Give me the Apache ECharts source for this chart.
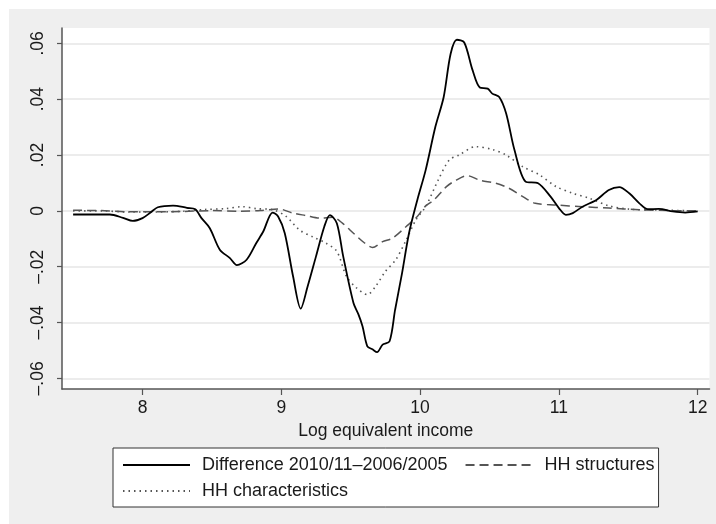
<!DOCTYPE html>
<html>
<head>
<meta charset="utf-8">
<script src="https://cdn.jsdelivr.net/npm/echarts@6/dist/echarts.min.js"></script>
<style>
  html, body { margin: 0; padding: 0; background: #fff; }
  #chart { width: 716px; height: 524px; }
</style>
</head>
<body>
<div id="chart"></div>
<script>
// Density differences by log equivalent income
const seriesNames = ['Difference 2010/11\u20132006/2005', 'HH structures', 'HH characteristics'];

const diffPoints = [
  [7.50, -0.0013], [7.62, -0.0013], [7.765, -0.0013], [7.86, -0.0025], [7.93, -0.0036],
  [8.00, -0.0026], [8.06, -0.0005], [8.11, 0.0013], [8.22, 0.0019], [8.32, 0.0011],
  [8.38, 0.0006], [8.425, -0.0026], [8.485, -0.0062], [8.557, -0.0139], [8.63, -0.0169],
  [8.68, -0.0194], [8.75, -0.0175], [8.82, -0.0115], [8.87, -0.0074], [8.937, -0.0006],
  [8.977, -0.002], [9.025, -0.008], [9.085, -0.0235], [9.14, -0.035], [9.19, -0.027],
  [9.25, -0.0163], [9.31, -0.0056], [9.35, -0.0015], [9.40, -0.0044], [9.446, -0.0163],
  [9.52, -0.033], [9.555, -0.037], [9.585, -0.0413], [9.62, -0.0485], [9.657, -0.0496],
  [9.69, -0.0506], [9.73, -0.0479], [9.78, -0.0467], [9.82, -0.0354], [9.87, -0.0223],
  [9.92, -0.008], [9.98, 0.0039], [10.04, 0.0146], [10.11, 0.0301], [10.17, 0.0408],
  [10.22, 0.0563], [10.265, 0.0613], [10.318, 0.0603], [10.378, 0.0504], [10.43, 0.0442],
  [10.487, 0.0438], [10.52, 0.042], [10.57, 0.0408], [10.62, 0.0349], [10.68, 0.0218],
  [10.76, 0.0105], [10.85, 0.0099], [10.94, 0.0051], [11.00, 0.001], [11.05, -0.0014],
  [11.10, -0.0008], [11.17, 0.0015], [11.27, 0.0039], [11.36, 0.0075], [11.435, 0.0085],
  [11.507, 0.0063], [11.58, 0.0027], [11.64, 0.0006], [11.72, 0.0007], [11.82, -0.0002],
  [11.91, -0.0006], [12.00, -0.0002]
];

const structPoints = [
  [7.50, 0.0002], [7.70, 0.0001], [7.90, -0.0003], [8.10, -0.0003], [8.30, -0.0002],
  [8.50, 0.0001], [8.70, -0.0001], [8.85, 0.0001], [8.98, 0.0007], [9.085, -0.0008],
  [9.18, -0.0017], [9.275, -0.0026], [9.37, -0.0023], [9.44, -0.0044], [9.52, -0.008],
  [9.60, -0.0115], [9.657, -0.0131], [9.73, -0.011], [9.80, -0.0098], [9.90, -0.0056],
  [9.98, -0.002], [10.04, 0.0018], [10.10, 0.0039], [10.19, 0.0087], [10.26, 0.011],
  [10.34, 0.0126], [10.43, 0.011], [10.545, 0.0099], [10.64, 0.0081], [10.74, 0.0051],
  [10.83, 0.0027], [10.98, 0.0021], [11.17, 0.0015], [11.36, 0.001], [11.58, 0.0004],
  [11.80, 0.0001], [12.00, 0.0]
];

const charPoints = [
  [7.50, 0.0], [7.70, 0.0], [7.90, -0.0004], [8.10, -0.0004], [8.30, -0.0001],
  [8.45, 0.0005], [8.60, 0.0008], [8.72, 0.0015], [8.82, 0.0008], [8.94, 0.0004],
  [9.035, -0.002], [9.13, -0.0068], [9.23, -0.0094], [9.32, -0.0115], [9.40, -0.0145],
  [9.47, -0.0235], [9.54, -0.0275], [9.62, -0.030], [9.68, -0.027], [9.75, -0.0217],
  [9.825, -0.0175], [9.90, -0.0104], [9.97, -0.0032], [10.04, 0.0015], [10.13, 0.011],
  [10.21, 0.0182], [10.28, 0.020], [10.40, 0.023], [10.52, 0.022], [10.62, 0.020],
  [10.74, 0.0158], [10.86, 0.0129], [10.98, 0.0087], [11.10, 0.0063], [11.22, 0.0045],
  [11.36, 0.0018], [11.51, 0.0006], [11.70, 0.0003], [12.00, 0.0]
];

const xTicks = [8, 9, 10, 11, 12];
const yTicks = [-0.06, -0.04, -0.02, 0, 0.02, 0.04, 0.06];
const yTickLabels = ['\u2013.06', '\u2013.04', '\u2013.02', '0', '.02', '.04', '.06'];
const xTitle = 'Log equivalent income';

const FONT = '"Liberation Sans", Arial, sans-serif';
const TEXT = '#1a1a1a';

const chart = echarts.init(document.getElementById('chart'), null, { renderer: 'canvas' });

chart.setOption({
  backgroundColor: '#ffffff',
  animation: false,
  textStyle: { fontFamily: FONT },
  graphic: [{
    type: 'rect', z: -10, silent: true,
    shape: { x: 9, y: 9, width: 707, height: 515 },
    style: { fill: '#efefef' }
  }],
  grid: {
    left: 62, top: 28, width: 647.5, height: 361,
    show: true, backgroundColor: '#ffffff', borderWidth: 0
  },
  xAxis: {
    type: 'value', min: 7.42, max: 12.085,
    name: xTitle, nameLocation: 'middle', nameGap: 30,
    nameTextStyle: { fontSize: 17.5, color: TEXT, fontFamily: FONT },
    axisLine: { show: true, onZero: false, lineStyle: { color: '#555', width: 1.5 } },
    axisTick: { show: true, length: 6, customValues: xTicks, lineStyle: { color: '#555', width: 1.2 } },
    axisLabel: { customValues: xTicks, margin: 10, fontSize: 17.5, color: TEXT, fontFamily: FONT },
    splitLine: { show: false }
  },
  yAxis: {
    type: 'value', min: -0.0638, max: 0.0655,
    axisLine: { show: true, onZero: false, lineStyle: { color: '#555', width: 1.5 } },
    axisTick: { show: true, length: 5, customValues: yTicks, lineStyle: { color: '#555', width: 1.2 } },
    axisLabel: {
      customValues: yTicks, rotate: 90, margin: 15, fontSize: 17.5, color: TEXT, fontFamily: FONT,
      formatter: function (v) {
        const i = yTicks.findIndex(t => Math.abs(t - v) < 1e-9);
        return i >= 0 ? yTickLabels[i] : '';
      }
    },
    splitLine: { show: true, lineStyle: { color: '#e6e6e6', width: 1.5 } }
  },
  legend: {
    left: 113, top: 448, width: 540,
    orient: 'horizontal', itemGap: 0,
    itemWidth: 67, itemHeight: 14,
    padding: [4, 4, 3, 9],
    backgroundColor: '#ffffff', borderColor: '#333', borderWidth: 1,
    itemStyle: { opacity: 0 },
    textStyle: { fontSize: 18, color: TEXT, fontFamily: FONT, lineHeight: 26, padding: [0, 0, 0, 7] },
    data: [
      { name: seriesNames[0], textStyle: { padding: [0, 17, 0, 7] } },
      { name: seriesNames[1] },
      { name: seriesNames[2] }
    ]
  },
  series: [
    {
      name: seriesNames[0], type: 'line', data: diffPoints, smooth: 0.3,
      symbol: 'none', z: 5,
      lineStyle: { color: '#000', width: 1.8, type: 'solid' },
      itemStyle: { color: '#000' }
    },
    {
      name: seriesNames[1], type: 'line', data: structPoints, smooth: 0.3,
      symbol: 'none', z: 4,
      lineStyle: { color: '#555', width: 1.5, type: [9, 5] },
      itemStyle: { color: '#555' }
    },
    {
      name: seriesNames[2], type: 'line', data: charPoints, smooth: 0.3,
      symbol: 'none', z: 3,
      lineStyle: { color: '#555', width: 1.6, type: [1.5, 4] },
      itemStyle: { color: '#555' }
    }
  ]
});
</script>
</body>
</html>
